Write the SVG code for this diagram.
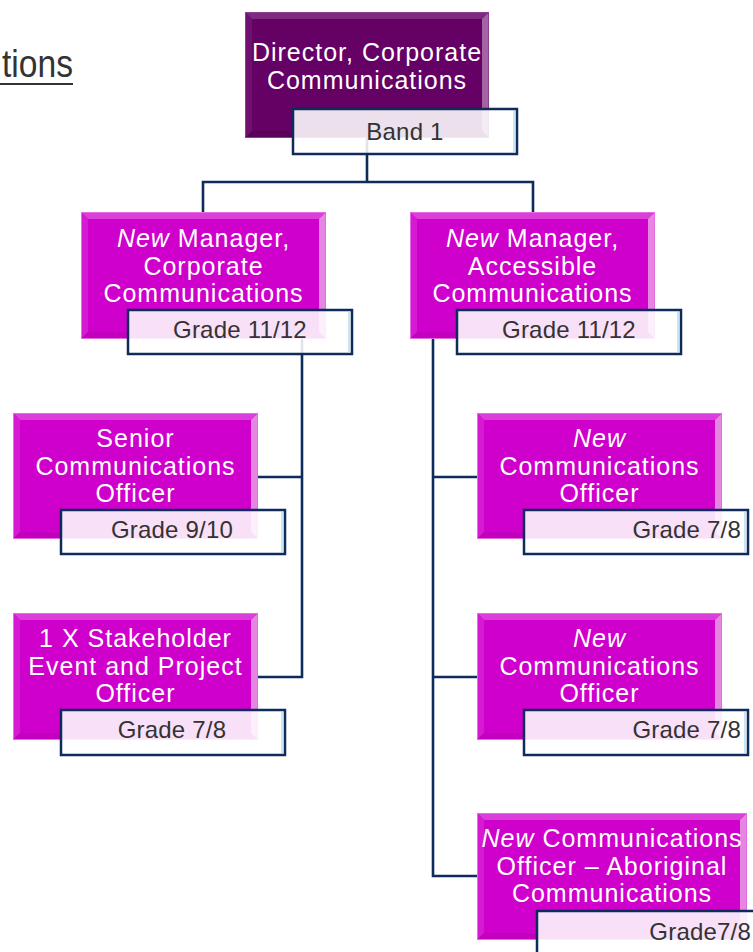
<svg xmlns="http://www.w3.org/2000/svg" width="753" height="952" viewBox="0 0 753 952">
  <style>
    .bg { fill: #ffffff; }
    .title { font-family: "Liberation Sans", Arial, sans-serif; font-size: 38px; fill: #333333; }
    .uline { stroke: #333333; stroke-width: 2; }
    .conn { fill: none; stroke: #0f2b5c; stroke-width: 2.6; stroke-linejoin: miter; }
    .lbl { font-family: "Liberation Sans", Arial, sans-serif; font-size: 25px; letter-spacing: 1px; fill: #ffffff; text-anchor: middle; }
    .lbl .it { font-style: italic; }
    .grade { font-family: "Liberation Sans", Arial, sans-serif; font-size: 24px; letter-spacing: 0.2px; fill: #333333; }
    .gbox { fill: #ffffff; fill-opacity: 0.88; stroke: #0f2b5c; stroke-width: 2.5; }
    .gedge { stroke: #b9dcef; stroke-width: 1.5; }
    /* magenta card bevel */
    .m-base { fill: #cf00cb; }
    .m-top { fill: #dc3ed9; }
    .m-left { fill: #d51bd1; }
    .m-right { fill: #e586e3; }
    .m-bot { fill: #c200be; }
    .m-rim { fill: none; stroke: #e66be3; stroke-width: 1; }
    /* dark purple card bevel */
    .d-base { fill: #650065; }
    .d-top { fill: #7f2a7f; }
    .d-left { fill: #701070; }
    .d-right { fill: #a464a4; }
    .d-bot { fill: #590059; }
    .d-rim { fill: none; stroke: #8a3f8a; stroke-width: 1; }
  </style>

  <rect class="bg" x="0" y="0" width="753" height="952"/>

  <!-- heading fragment at top left -->
  <g id="heading">
    <text class="title" x="2" y="77" textLength="71" lengthAdjust="spacingAndGlyphs">tions</text>
    <line class="uline" x1="0" y1="84" x2="73" y2="84"/>
  </g>

  <!-- reporting lines -->
  <g id="connectors">
    <path class="conn" d="M367,138 V182 M203,212 V182 H533 V212"/>
    <path class="conn" d="M302,338 V677 H258 M302,477 H258"/>
    <path class="conn" d="M433,338 V876 H477 M433,477 H477 M433,677 H477"/>
  </g>

  <!-- Director -->
  <g id="director">
    <rect class="d-base" x="245" y="12" width="244" height="126"/>
    <polygon class="d-top" points="245,12 489,12 482,19 252,19"/>
    <polygon class="d-left" points="245,12 252,19 252,131 245,138"/>
    <polygon class="d-right" points="489,12 489,138 482,131 482,19"/>
    <polygon class="d-bot" points="245,138 489,138 482,131 252,131"/>
    <rect class="d-rim" x="245.5" y="12.5" width="243" height="125"/>
    <text class="lbl" x="367" y="61">Director, Corporate</text>
    <text class="lbl" x="367" y="89">Communications</text>
    <rect class="gbox" x="293" y="109" width="224" height="45"/>
    <line class="gedge" x1="514" y1="111" x2="514" y2="152"/>
    <text class="grade" x="405" y="140" text-anchor="middle">Band 1</text>
  </g>

  <!-- Manager, Corporate Communications -->
  <g id="mgr-corporate">
    <rect class="m-base" x="81" y="212" width="245" height="127"/>
    <polygon class="m-top" points="81,212 326,212 319,219 88,219"/>
    <polygon class="m-left" points="81,212 88,219 88,332 81,339"/>
    <polygon class="m-right" points="326,212 326,339 319,332 319,219"/>
    <polygon class="m-bot" points="81,339 326,339 319,332 88,332"/>
    <rect class="m-rim" x="81.5" y="212.5" width="244" height="126"/>
    <text class="lbl" x="203.5" y="247"><tspan class="it">New</tspan> Manager,</text>
    <text class="lbl" x="203.5" y="275">Corporate</text>
    <text class="lbl" x="203.5" y="302">Communications</text>
    <rect class="gbox" x="128" y="310" width="224" height="44"/>
    <line class="gedge" x1="349" y1="312" x2="349" y2="352"/>
    <text class="grade" x="240" y="338" text-anchor="middle">Grade 11/12</text>
  </g>

  <!-- Manager, Accessible Communications -->
  <g id="mgr-accessible">
    <rect class="m-base" x="410" y="212" width="245" height="127"/>
    <polygon class="m-top" points="410,212 655,212 648,219 417,219"/>
    <polygon class="m-left" points="410,212 417,219 417,332 410,339"/>
    <polygon class="m-right" points="655,212 655,339 648,332 648,219"/>
    <polygon class="m-bot" points="410,339 655,339 648,332 417,332"/>
    <rect class="m-rim" x="410.5" y="212.5" width="244" height="126"/>
    <text class="lbl" x="532.5" y="247"><tspan class="it">New</tspan> Manager,</text>
    <text class="lbl" x="532.5" y="275">Accessible</text>
    <text class="lbl" x="532.5" y="302">Communications</text>
    <rect class="gbox" x="457" y="310" width="224" height="44"/>
    <line class="gedge" x1="678" y1="312" x2="678" y2="352"/>
    <text class="grade" x="569" y="338" text-anchor="middle">Grade 11/12</text>
  </g>

  <!-- Senior Communications Officer -->
  <g id="senior-officer">
    <rect class="m-base" x="13" y="413" width="245" height="126"/>
    <polygon class="m-top" points="13,413 258,413 251,420 20,420"/>
    <polygon class="m-left" points="13,413 20,420 20,532 13,539"/>
    <polygon class="m-right" points="258,413 258,539 251,532 251,420"/>
    <polygon class="m-bot" points="13,539 258,539 251,532 20,532"/>
    <rect class="m-rim" x="13.5" y="413.5" width="244" height="125"/>
    <text class="lbl" x="135.5" y="447">Senior</text>
    <text class="lbl" x="135.5" y="475">Communications</text>
    <text class="lbl" x="135.5" y="502">Officer</text>
    <rect class="gbox" x="61" y="510" width="224" height="44"/>
    <line class="gedge" x1="282" y1="512" x2="282" y2="552"/>
    <text class="grade" x="172" y="538" text-anchor="middle">Grade 9/10</text>
  </g>

  <!-- Stakeholder Event and Project Officer -->
  <g id="stakeholder-officer">
    <rect class="m-base" x="13" y="613" width="245" height="127"/>
    <polygon class="m-top" points="13,613 258,613 251,620 20,620"/>
    <polygon class="m-left" points="13,613 20,620 20,733 13,740"/>
    <polygon class="m-right" points="258,613 258,740 251,733 251,620"/>
    <polygon class="m-bot" points="13,740 258,740 251,733 20,733"/>
    <rect class="m-rim" x="13.5" y="613.5" width="244" height="126"/>
    <text class="lbl" x="135.5" y="647">1 X Stakeholder</text>
    <text class="lbl" x="135.5" y="675">Event and Project</text>
    <text class="lbl" x="135.5" y="702">Officer</text>
    <rect class="gbox" x="61" y="710" width="224" height="45"/>
    <line class="gedge" x1="282" y1="712" x2="282" y2="753"/>
    <text class="grade" x="172" y="738" text-anchor="middle">Grade 7/8</text>
  </g>

  <!-- Communications Officer (1) -->
  <g id="comms-officer-1">
    <rect class="m-base" x="477" y="413" width="245" height="126"/>
    <polygon class="m-top" points="477,413 722,413 715,420 484,420"/>
    <polygon class="m-left" points="477,413 484,420 484,532 477,539"/>
    <polygon class="m-right" points="722,413 722,539 715,532 715,420"/>
    <polygon class="m-bot" points="477,539 722,539 715,532 484,532"/>
    <rect class="m-rim" x="477.5" y="413.5" width="244" height="125"/>
    <text class="lbl" x="599.5" y="447"><tspan class="it">New</tspan></text>
    <text class="lbl" x="599.5" y="475">Communications</text>
    <text class="lbl" x="599.5" y="502">Officer</text>
    <rect class="gbox" x="524" y="510" width="224" height="44"/>
    <line class="gedge" x1="745" y1="512" x2="745" y2="552"/>
    <text class="grade" x="741" y="538" text-anchor="end">Grade 7/8</text>
  </g>

  <!-- Communications Officer (2) -->
  <g id="comms-officer-2">
    <rect class="m-base" x="477" y="613" width="245" height="127"/>
    <polygon class="m-top" points="477,613 722,613 715,620 484,620"/>
    <polygon class="m-left" points="477,613 484,620 484,733 477,740"/>
    <polygon class="m-right" points="722,613 722,740 715,733 715,620"/>
    <polygon class="m-bot" points="477,740 722,740 715,733 484,733"/>
    <rect class="m-rim" x="477.5" y="613.5" width="244" height="126"/>
    <text class="lbl" x="599.5" y="647"><tspan class="it">New</tspan></text>
    <text class="lbl" x="599.5" y="675">Communications</text>
    <text class="lbl" x="599.5" y="702">Officer</text>
    <rect class="gbox" x="524" y="710" width="224" height="45"/>
    <line class="gedge" x1="745" y1="712" x2="745" y2="753"/>
    <text class="grade" x="741" y="738" text-anchor="end">Grade 7/8</text>
  </g>

  <!-- Communications Officer – Aboriginal Communications -->
  <g id="comms-officer-aboriginal">
    <rect class="m-base" x="477" y="813" width="270" height="127"/>
    <polygon class="m-top" points="477,813 747,813 740,820 484,820"/>
    <polygon class="m-left" points="477,813 484,820 484,933 477,940"/>
    <polygon class="m-right" points="747,813 747,940 740,933 740,820"/>
    <polygon class="m-bot" points="477,940 747,940 740,933 484,933"/>
    <rect class="m-rim" x="477.5" y="813.5" width="269" height="126"/>
    <text class="lbl" x="612" y="847"><tspan class="it">New</tspan> Communications</text>
    <text class="lbl" x="612" y="875">Officer – Aboriginal</text>
    <text class="lbl" x="612" y="902">Communications</text>
    <rect class="gbox" x="537" y="911" width="230" height="50"/>
    <text class="grade" x="751" y="940" text-anchor="end">Grade7/8</text>
  </g>
</svg>
